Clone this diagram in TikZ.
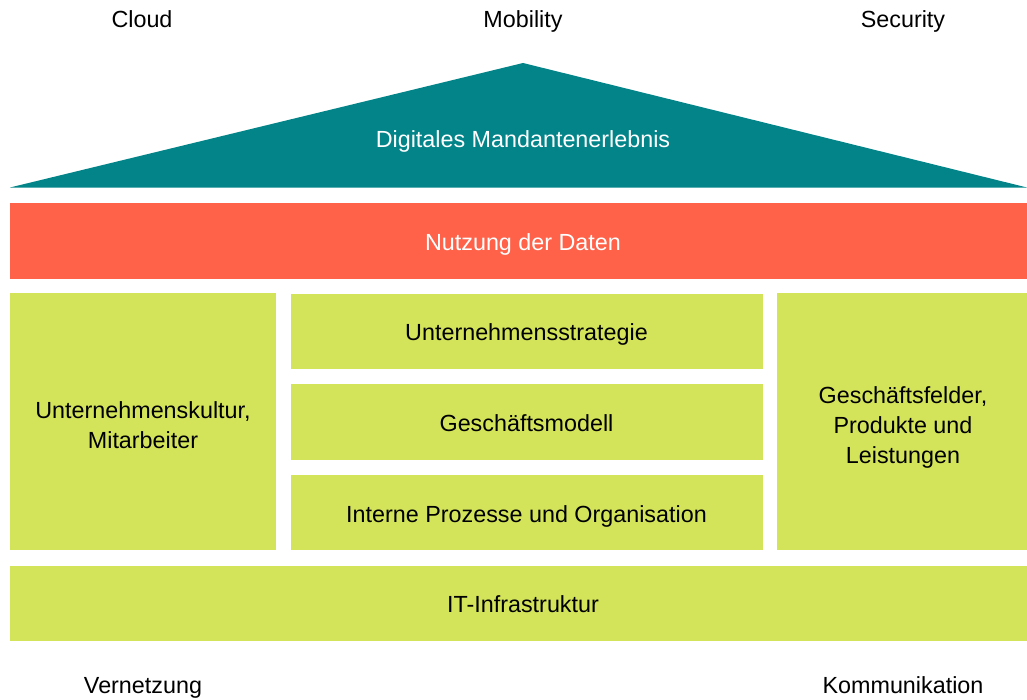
\documentclass[tikz,border=0pt]{standalone}
\usepackage{fontspec}
\setmainfont{Liberation Sans}
\definecolor{dachTeal}{RGB}{2,132,137}
\definecolor{datenRot}{RGB}{255,98,73}
\definecolor{saeuleGruen}{RGB}{212,228,90}
\tikzset{
  txt/.style={inner sep=0pt, align=center, font=\fontsize{17.5}{22.5}\selectfont},
  zeile/.style={txt, text height=0.72em, text depth=0pt},
  hell/.style={zeile, text=white}
}
\begin{document}
\begin{tikzpicture}[x=0.75pt,y=0.75pt,yscale=-1]
\useasboundingbox (0,0) rectangle (1027,699);

%Shape: Roof
\fill [dachTeal] (10,187.5) -- (523,63) -- (1027,187.5) -- cycle ;
%Shape: Rectangle
\fill [datenRot] (10,203) rectangle (1027,278.5) ;
%Shape: Rectangle
\fill [saeuleGruen] (10,293) rectangle (276,550) ;
%Shape: Rectangle
\fill [saeuleGruen] (291,294) rectangle (763,369) ;
%Shape: Rectangle
\fill [saeuleGruen] (291,384) rectangle (763,459.5) ;
%Shape: Rectangle
\fill [saeuleGruen] (291,475) rectangle (763,550) ;
%Shape: Rectangle
\fill [saeuleGruen] (777,293) rectangle (1027,550) ;
%Shape: Rectangle
\fill [saeuleGruen] (10,566) rectangle (1027,641) ;

% Text Node
\node [zeile] (cloud) at (142,23) {Cloud};
% Text Node
\node [zeile] (mobility) at (523,23) {Mobility};
% Text Node
\node [zeile] (security) at (903,23) {Security};
% Text Node
\node [hell] (erlebnis) at (523,143) {Digitales Mandantenerlebnis};
% Text Node
\node [hell] (daten) at (523,246) {Nutzung der Daten};
% Text Node
\node [txt] (kultur) at (143,425) {Unternehmenskultur,\\Mitarbeiter};
% Text Node
\node [zeile] (strategie) at (526.5,336) {Unternehmensstrategie};
% Text Node
\node [zeile] (modell) at (526.5,427) {Geschäftsmodell};
% Text Node
\node [zeile] (prozesse) at (526.5,518) {Interne Prozesse und Organisation};
% Text Node
\node [txt] (felder) at (903,427) {Geschäftsfelder,\\Produkte und\\Leistungen};
% Text Node
\node [zeile] (infra) at (523,608) {IT-Infrastruktur};
% Text Node
\node [zeile] (vernetzung) at (143,689) {Vernetzung};
% Text Node
\node [zeile] (kommunikation) at (903,689) {Kommunikation};

\end{tikzpicture}
\end{document}
